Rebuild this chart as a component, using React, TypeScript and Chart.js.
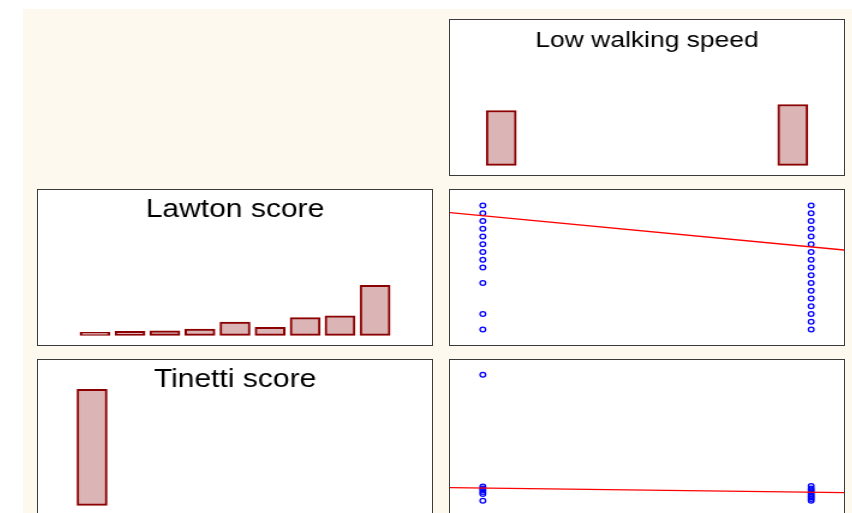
import React, { useEffect, useRef } from "react";
import { Chart, registerables } from "chart.js";

Chart.register(...registerables);

// ---- Data ----
// Low walking speed (0/1): histogram, 9 bins over [0,1], percent of subjects
const speedBinCenters = [0.056, 0.167, 0.278, 0.389, 0.5, 0.611, 0.722, 0.833, 0.944];
const speedPercent = [45.8, 0, 0, 0, 0, 0, 0, 0, 50.8];

// Lawton score histogram, 9 bins over [0,16]
const lawtonBinCenters = [0.89, 2.67, 4.44, 6.22, 8.0, 9.78, 11.56, 13.33, 15.11];
const lawtonPercent = [2.5, 3.3, 3.9, 5.3, 11.1, 6.7, 14.8, 16.4, 41.7];

// Tinetti score histogram, 9 bins over [0,50.8]
const tinettiBinCenters = [2.82, 8.47, 14.11, 19.76, 25.4, 31.04, 36.69, 42.33, 47.98];
const tinettiPercent = [96.7, 0, 0, 0, 0, 0, 0, 0, 0];

// Scatter: Lawton score by walking speed group
const lawtonSpeed0 = [16, 15, 14, 13, 12, 11, 10, 9, 8, 6, 2, 0];
const lawtonSpeed1 = [16, 15, 14, 13, 12, 11, 10, 9, 8, 7, 6, 5, 4, 3, 2, 1, 0];
const fitX = [-0.1, 1.1];
const lawtonFit = [15.07, 10.26];

// Scatter: Tinetti score by walking speed group
const tinettiSpeed0 = [50.8, 5.8, 5.0, 4.4, 3.5, 2.7, 0];
const tinettiSpeed1 = [6.0, 5.0, 4.3, 3.5, 2.7, 2.0, 1.4, 0.7, 0];
const tinettiFit = [5.26, 3.24];

// ---- Styling ----
const BAR_FILL = "#DBB4B6";
const BAR_EDGE = "#8B0000";
const POINT_BLUE = "#0000FF";
const FIT_RED = "#FF0000";
const CREAM = "#FEF9EF";

const INNER_W = 328; // drawn width, stretched horizontally to 394px
const INNER_H = 155;
const STRETCH = 394 / INNER_W;

const HIST_Y_MIN = -8;
const HIST_Y_MAX = 121.2;

function titlePlugin(text: string, size: number) {
  return {
    id: "panelTitle",
    afterDraw(chart: any) {
      const ctx = chart.ctx;
      ctx.save();
      ctx.font = `${size}px "Liberation Sans", Arial, sans-serif`;
      ctx.fillStyle = "#000000";
      ctx.textAlign = "center";
      ctx.textBaseline = "alphabetic";
      ctx.fillText(text, chart.width / 2, 26.5);
      ctx.restore();
    },
  };
}

const baseOptions = {
  responsive: false,
  animation: false,
  layout: { padding: 0, autoPadding: false },
  plugins: { legend: { display: false }, tooltip: { enabled: false }, title: { display: false } },
};

function histConfig(centers: number[], values: number[], xMin: number, xMax: number, title: string, size: number): any {
  return {
    type: "bar",
    data: {
      datasets: [
        {
          data: centers.map((c, i) => ({ x: c, y: values[i] })),
          backgroundColor: BAR_FILL,
          borderColor: BAR_EDGE,
          borderWidth: 2,
          borderSkipped: false,
          barThickness: 25,
        },
      ],
    },
    options: {
      ...baseOptions,
      scales: {
        x: { type: "linear", min: xMin, max: xMax, display: false, offset: false, grid: { display: false } },
        y: { type: "linear", min: HIST_Y_MIN, max: HIST_Y_MAX, display: false, grid: { display: false } },
      },
    },
    plugins: [titlePlugin(title, size)],
  };
}

function scatterConfig(group0: number[], group1: number[], fit: number[], yMin: number, yMax: number): any {
  const pts = [
    ...group0.map((v) => ({ x: 0, y: v })),
    ...group1.map((v) => ({ x: 1, y: v })),
  ];
  return {
    type: "scatter",
    data: {
      datasets: [
        {
          type: "line",
          data: fitX.map((x, i) => ({ x, y: fit[i] })),
          borderColor: FIT_RED,
          borderWidth: 1.3,
          pointRadius: 0,
          showLine: true,
          fill: false,
        },
        {
          data: pts,
          pointStyle: "circle",
          pointRadius: 2.3,
          pointBorderWidth: 1.3,
          borderColor: POINT_BLUE,
          backgroundColor: "rgba(0,0,0,0)",
          pointBackgroundColor: "rgba(0,0,0,0)",
          pointBorderColor: POINT_BLUE,
        },
      ],
    },
    options: {
      ...baseOptions,
      scales: {
        x: { type: "linear", min: -0.1, max: 1.1, display: false },
        y: { type: "linear", min: yMin, max: yMax, display: false },
      },
    },
  };
}

function Panel({ left, top, config }: { left: number; top: number; config: any }) {
  const ref = useRef<HTMLCanvasElement | null>(null);
  useEffect(() => {
    if (!ref.current) return;
    const chart = new Chart(ref.current, config);
    return () => chart.destroy();
  }, [config]);
  return (
    <div
      style={{
        position: "absolute",
        left,
        top,
        width: 396,
        height: 157,
        boxSizing: "border-box",
        border: "1px solid #3a3a3a",
        background: "#ffffff",
        overflow: "hidden",
      }}
    >
      <div
        style={{
          width: INNER_W,
          height: INNER_H,
          transform: `scaleX(${STRETCH})`,
          transformOrigin: "0 0",
        }}
      >
        <canvas ref={ref} width={INNER_W} height={INNER_H} style={{ display: "block" }} />
      </div>
    </div>
  );
}

const cfgSpeed = histConfig(speedBinCenters, speedPercent, -0.1, 1.1, "Low walking speed", 22);
const cfgLawton = histConfig(lawtonBinCenters, lawtonPercent, -2, 18, "Lawton score", 25);
const cfgTinetti = histConfig(tinettiBinCenters, tinettiPercent, -5.75, 56.75, "Tinetti score", 25);
const cfgLawtonScatter = scatterConfig(lawtonSpeed0, lawtonSpeed1, lawtonFit, -2, 18);
const cfgTinettiScatter = scatterConfig(tinettiSpeed0, tinettiSpeed1, tinettiFit, -5.75, 56.75);

export default function App() {
  return (
    <div
      style={{
        position: "absolute",
        left: 0,
        top: 0,
        width: 852,
        height: 513,
        overflow: "hidden",
        background: "#ffffff",
      }}
    >
      <div style={{ position: "absolute", left: 23, top: 9, width: 829, height: 504, background: CREAM }} />
      <Panel left={449} top={19} config={cfgSpeed} />
      <Panel left={37} top={189} config={cfgLawton} />
      <Panel left={449} top={189} config={cfgLawtonScatter} />
      <Panel left={37} top={359} config={cfgTinetti} />
      <Panel left={449} top={359} config={cfgTinettiScatter} />
    </div>
  );
}
